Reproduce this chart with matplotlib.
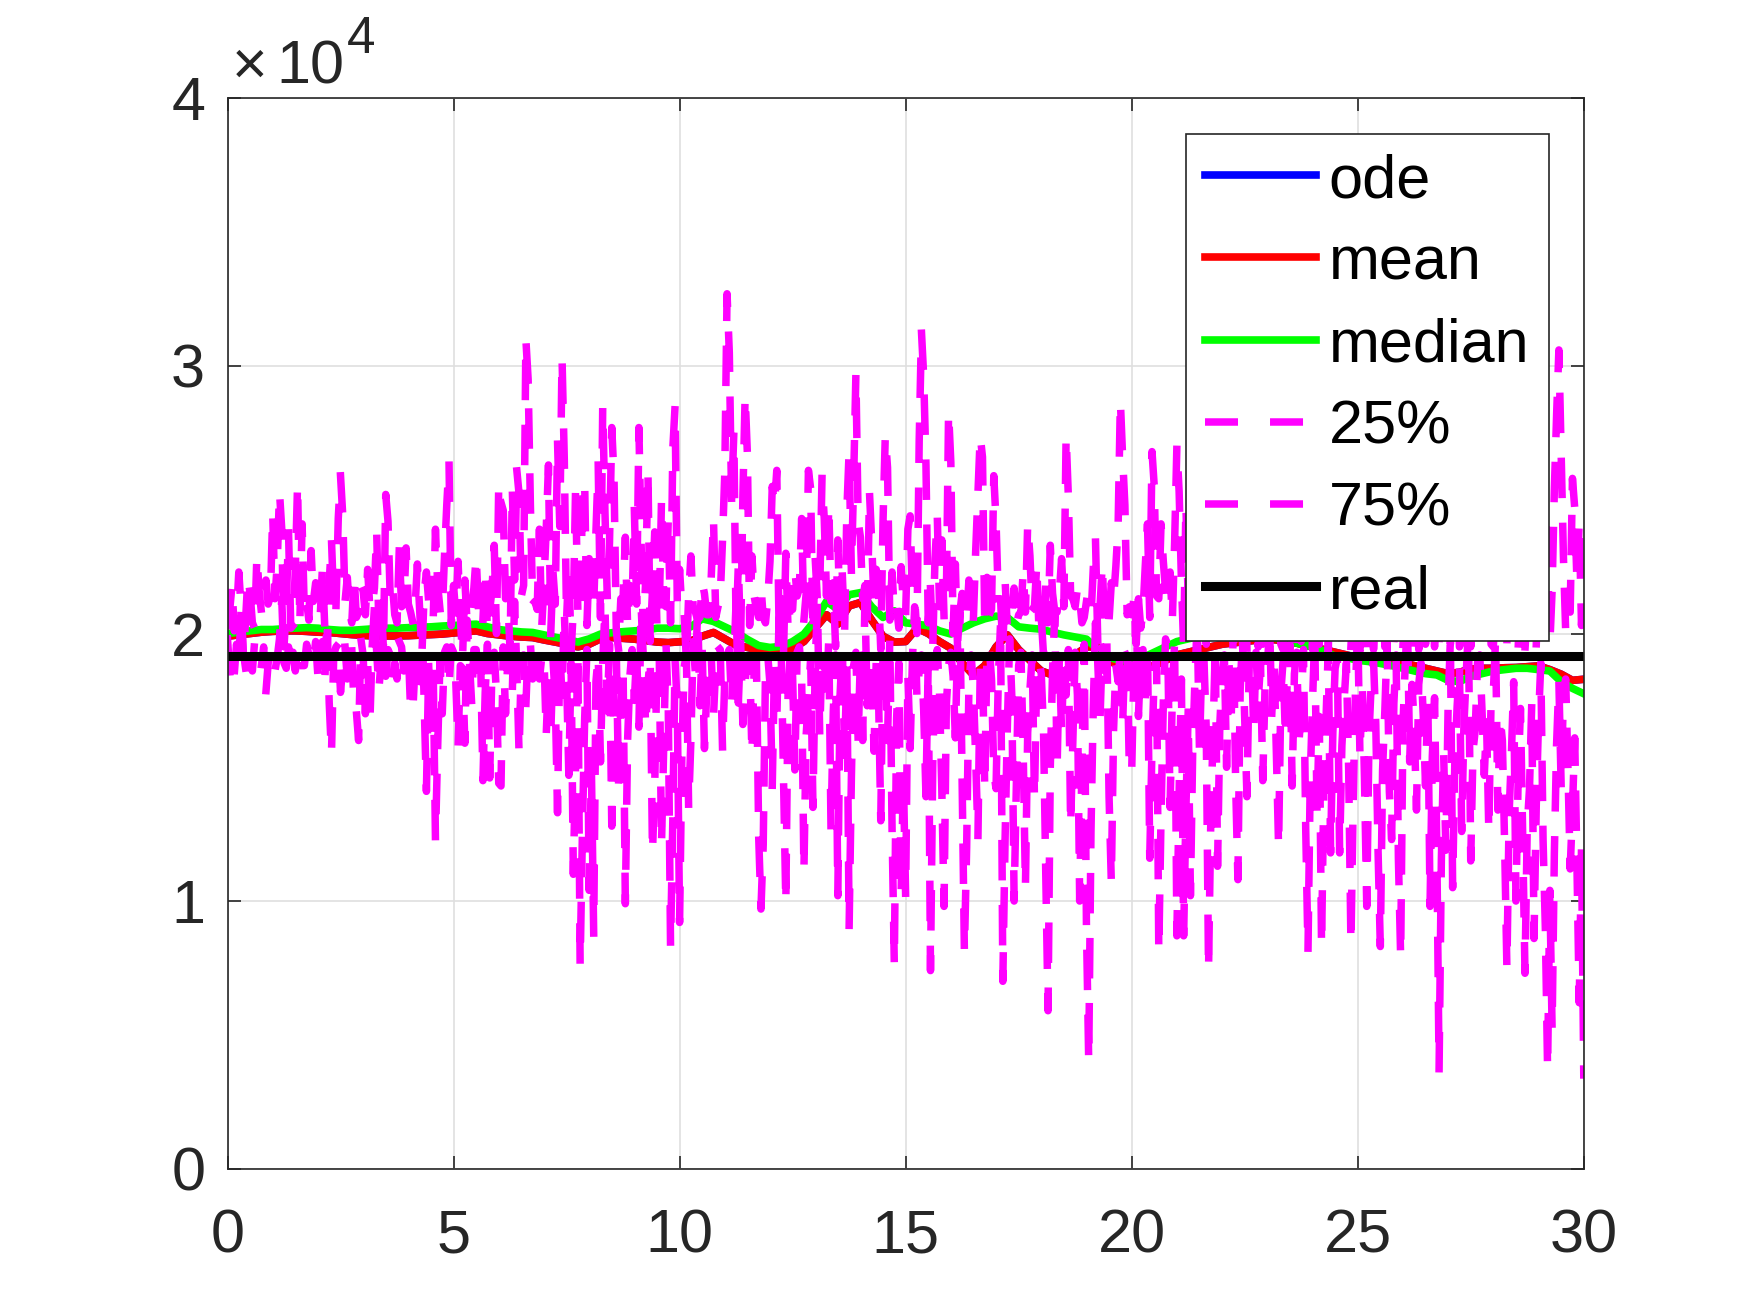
import numpy as np
import matplotlib
matplotlib.use('Agg')
import matplotlib.pyplot as plt

plt.rcParams['font.family'] = ['Liberation Sans', 'DejaVu Sans']

# ---------------- data ----------------
t_fine = np.linspace(0, 30, 601)   # 0.05 steps
q25_vals = [
    19800, 18500, 19000, 18500, 19600, 18800, 20900, 19300, 18700, 19400, 19100, 18600, 19700, 19200, 18900, 18800, 19500, 17800, 18900, 19300,
    19300, 18600, 19100, 19800, 21300, 18900, 18700, 19500, 18700, 19300, 18600, 19500, 19200, 18800, 18800, 19600, 19200, 18800, 19000, 19700,
    18400, 19300, 19700, 18100, 20500, 17400, 15500, 19200, 19500, 19600, 17800, 18800, 19500, 18300, 19400, 19400, 17200, 17100, 16000, 19800,
    19200, 17000, 18900, 16700, 19500, 21000, 19300, 17900, 19100, 19600, 18400, 19400, 19200, 18300, 18900, 18300, 19700, 19500, 18600, 18800,
    19400, 17100, 17100, 18900, 19400, 18200, 20800, 17500, 14100, 18800, 16400, 18700, 12300, 15800, 19000, 17000, 19300, 19500, 18000, 19500,
    19300, 18200, 15800, 18800, 18700, 15900, 20500, 19000, 17400, 19400, 19400, 18300, 19000, 14500, 17800, 19600, 14600, 18800, 19300, 17700,
    14400, 14300, 19500, 17000, 19000, 19300, 17800, 21200, 18600, 15500, 19000, 19200, 17300, 19500, 19600, 18300, 18700, 19300, 18300, 19100,
    19200, 16200, 18500, 16200, 19000, 17600, 13300, 19400, 17600, 20800, 18400, 14700, 18900, 11000, 15200, 19300, 7600, 12500, 16800, 19400,
    10400, 14900, 8800, 18200, 19200, 15200, 18900, 21000, 17100, 19600, 12800, 18600, 19300, 14400, 17300, 18800, 9900, 16000, 18400, 19400,
    17500, 19300, 16500, 21000, 19000, 16500, 18100, 19100, 11800, 14300, 18900, 19300, 12100, 15900, 19600, 17200, 8300, 13000, 19000, 17200,
    9200, 15400, 18700, 19300, 13500, 16000, 19700, 18500, 20900, 17300, 19400, 15700, 17800, 19200, 19200, 16900, 18800, 19500, 19400, 15700,
    18300, 19200, 19400, 17400, 18900, 21200, 17400, 19700, 16600, 18200, 19100, 19100, 15500, 18700, 19000, 12400, 9700, 12100, 18600, 19200,
    18100, 14300, 18900, 16700, 20600, 19100, 14500, 9900, 17800, 19300, 18400, 14900, 19300, 19500, 18400, 11100, 16200, 17600, 19100, 13500,
    18900, 21100, 16200, 19300, 19400, 17500, 19800, 12600, 17100, 19200, 10200, 17700, 19500, 15400, 18800, 9000, 14600, 18800, 19300, 16000,
    19200, 16000, 21300, 17300, 18500, 19100, 15600, 19000, 17800, 13000, 19300, 18700, 16000, 19800, 12700, 7600, 16800, 18900, 10200, 14700,
    10200, 18400, 15700, 19000, 21000, 17600, 18600, 19200, 17100, 13900, 19000, 7400, 15100, 18800, 19400, 17700, 14200, 9800, 17300, 18800,
    19300, 18400, 16100, 19700, 20800, 14600, 8100, 12000, 18100, 19200, 17900, 15300, 12400, 18700, 19000, 14200, 19400, 19500, 18300, 14800,
    14200, 18300, 20400, 7000, 12300, 16500, 19800, 17600, 10000, 14500, 18800, 19300, 15700, 10500, 16300, 17900, 19200, 13800, 18500, 19000,
    18500, 16400, 11000, 5900, 15000, 18600, 20800, 14900, 19100, 16300, 19100, 17700, 19400, 12800, 16100, 19300, 17700, 10000, 15200, 19600,
    9000, 4000, 12600, 17200, 20400, 18900, 16800, 19500, 18600, 19800, 13900, 10700, 16400, 18800, 18200, 19400, 16600, 19300, 19100, 14800,
    14800, 18700, 20900, 16900, 19200, 19400, 17400, 19600, 11600, 15800, 18500, 19100, 8100, 13200, 17400, 19800, 19300, 13500, 17800, 19700,
    8700, 14100, 18300, 8700, 13400, 17100, 10200, 15600, 18300, 20500, 15600, 18900, 19000, 16400, 7400, 13000, 16200, 19500, 11300, 16600,
    18400, 19200, 15000, 19100, 16700, 20300, 14400, 10800, 17900, 19800, 16900, 13900, 18800, 19300, 16300, 19300, 17500, 18900, 14500, 18000,
    18600, 20400, 17000, 19000, 15600, 12000, 17800, 19000, 16100, 18700, 19600, 14300, 18500, 19300, 15900, 17200, 19400, 12700, 8100, 14600,
    17400, 20000, 13200, 16900, 8300, 14200, 16800, 19500, 11800, 16300, 18700, 19100, 11800, 15800, 17500, 18900, 14900, 8400, 13700, 17900,
    20300, 15400, 18200, 14600, 9800, 16200, 18200, 19000, 16600, 11900, 8300, 14900, 17100, 19700, 14100, 12300, 17400, 19200, 11600, 7900,
    16500, 18800, 20500, 15200, 18100, 16600, 13400, 18100, 18900, 16900, 14300, 17800, 9800, 15400, 17600, 12000, 3700, 11500, 15600, 11900,
    17300, 19800, 10500, 15400, 17300, 18800, 12600, 16600, 18500, 20200, 11500, 15600, 16400, 18900, 19200, 17100, 14700, 16700, 12600, 17500,
    17800, 19800, 13400, 16900, 16000, 12100, 7500, 13300, 15500, 18200, 10000, 14700, 17200, 12400, 7300, 12800, 14200, 17400, 8600, 13600,
    16800, 18900, 12300, 9000, 3700, 10400, 5200, 11800, 15900, 18200, 14300, 17700, 18300, 15000, 11200, 13400, 16100, 11300, 6200, 12000,
    3500,
]
q75_vals = [
    20300, 20900, 21800, 20100, 20700, 22300, 21000, 19100, 20500, 22100, 21500, 20400, 20200, 22900, 21600, 20800, 20800, 22000, 21100, 21400,
    24500, 21300, 22600, 25300, 23900, 19500, 21000, 23800, 20200, 20300, 22400, 25600, 20400, 24100, 20800, 21200, 20500, 23100, 21200, 21900,
    21200, 20600, 22500, 20300, 19000, 21900, 23500, 21100, 21000, 24300, 25900, 24400, 21200, 22100, 20800, 20400, 22200, 20600, 20800, 21800,
    21600, 20700, 22400, 20900, 21000, 21700, 23800, 20100, 21200, 19400, 25200, 24200, 21300, 21800, 20700, 20400, 23200, 21000, 21100, 23200,
    21100, 20800, 20400, 21000, 22600, 20900, 19200, 21500, 22300, 21200, 21100, 20500, 23900, 21800, 20900, 20700, 22900, 24800, 26400, 20300,
    21800, 20700, 22700, 20600, 19100, 22000, 20400, 20800, 20900, 21700, 22900, 21000, 21300, 20500, 22400, 20100, 20900, 21600, 23300, 20000,
    25600, 24900, 24600, 21300, 21400, 19300, 25400, 22000, 26100, 25200, 21400, 21800, 31000, 29500, 24800, 21100, 21200, 20900, 23900, 20200,
    21900, 23900, 26300, 20000, 22300, 21100, 27200, 24000, 30300, 26500, 20500, 22600, 19300, 20900, 25500, 20800, 20600, 24900, 25700, 20300,
    22800, 21000, 21000, 23800, 26300, 20600, 28500, 24500, 21400, 23400, 27700, 25800, 20100, 19400, 21300, 21300, 23600, 20300, 21800, 21100,
    24600, 21100, 27700, 23300, 20000, 22000, 26100, 19700, 21600, 23800, 20200, 20800, 25000, 21200, 21000, 24300, 20400, 26900, 28500, 21000,
    22400, 20900, 20800, 19000, 21400, 22900, 21000, 20800, 20500, 20600, 21900, 21500, 20700, 20700, 22100, 24300, 20600, 21000, 21400, 23500,
    26000, 32700, 30500, 25000, 27500, 20100, 22600, 19600, 25100, 28900, 26700, 20300, 22900, 21400, 20900, 20600, 21800, 20600, 20400, 21300,
    22700, 25500, 24800, 26100, 20200, 21300, 19300, 23000, 20100, 21100, 20900, 22400, 21400, 21700, 24300, 20500, 21500, 26100, 25400, 20000,
    22800, 21200, 21600, 25800, 24300, 21400, 24800, 21200, 21900, 19500, 23500, 20600, 22200, 20000, 24600, 26800, 22300, 25700, 29700, 24200,
    23600, 21300, 21800, 20300, 25300, 23400, 21200, 22400, 21600, 19400, 24200, 27400, 26200, 20500, 22300, 20800, 21000, 20200, 22500, 21100,
    20700, 23900, 24400, 21300, 21300, 20000, 27200, 31300, 29600, 26300, 20400, 21700, 19500, 22800, 24400, 21000, 23500, 20600, 21200, 28300,
    26400, 20000, 22600, 19400, 20800, 21500, 20800, 20500, 22000, 21100, 20600, 23100, 25200, 27400, 26600, 20400, 22100, 20700, 20900, 25900,
    24200, 21300, 21300, 19400, 22000, 20200, 20500, 20600, 21700, 20300, 20700, 20800, 22300, 20800, 24100, 22900, 20900, 21000, 22600, 20100,
    20600, 19200, 21900, 20400, 23300, 21500, 20800, 20800, 21500, 22800, 21000, 27400, 25100, 21400, 21300, 21000, 21700, 21300, 20400, 20600,
    21200, 21100, 20600, 22400, 23500, 19700, 21000, 22600, 20300, 20700, 20500, 21900, 21300, 22500, 24000, 28700, 26600, 24800, 20700, 21000,
    20700, 21300, 19600, 21300, 20200, 20800, 22500, 24100, 20600, 26800, 25500, 21400, 21300, 24100, 22700, 21600, 21200, 22300, 20500, 23400,
    27000, 25300, 22000, 19500, 24800, 21200, 19900, 26500, 22400, 19400, 21100, 25300, 21900, 19600, 23700, 20600, 19500, 24900, 27600, 21500,
    23100, 19600, 20900, 25800, 22200, 19500, 19700, 24400, 28200, 21700, 23600, 19400, 20700, 22800, 26100, 21400, 19500, 24700, 19600, 22500,
    25600, 19500, 21200, 23400, 27900, 22000, 19600, 19400, 24200, 21800, 26400, 22300, 19500, 20800, 23900, 19700, 21100, 25100, 29200, 22100,
    19400, 21000, 24500, 19600, 23200, 19900, 26700, 19500, 22700, 21100, 19400, 25400, 22300, 19600, 21100, 24000, 27300, 19500, 21300, 23300,
    19500, 19300, 22600, 25900, 19600, 21400, 23800, 19400, 21000, 24600, 28400, 22000, 19500, 20900, 25000, 22500, 19600, 21100, 24300, 26900,
    19500, 21300, 23100, 19600, 19500, 25600, 22200, 19400, 21300, 24500, 19600, 20900, 28200, 23000, 19500, 22900, 19700, 21100, 25800, 22400,
    24200, 19600, 21800, 26300, 22500, 19500, 19700, 23600, 27100, 21900, 19500, 20900, 24800, 22100, 19400, 21300, 25300, 28800, 22700, 19600,
    19500, 21100, 25000, 23400, 22500, 19700, 19600, 24300, 21900, 26900, 24100, 19500, 21500, 23100, 19400, 20800, 20900, 25600, 23700, 19600,
    22200, 20100, 21300, 24500, 22800, 19600, 21600, 25400, 28200, 30600, 26800, 22900, 20100, 21000, 20800, 25800, 24700, 21900, 24200, 20300,
    21800,
]

t_coarse = np.linspace(0, 30, 121)   # 0.25 steps
median_vals = [
    20000, 20050, 20100, 20150, 20150, 20180, 20200, 20220, 20200, 20150,
    20120, 20120, 20150, 20180, 20200, 20200, 20220, 20240, 20250, 20280,
    20300, 20330, 20350, 20250, 20150, 20100, 20060, 20040, 19950, 19860,
    19780, 19680, 19800, 19980, 20030, 20070, 20100, 20130, 20200, 20200,
    20180, 20250, 20550, 20450, 20250, 20050, 19780, 19550, 19480, 19520,
    19700, 19980, 20500, 21200, 20900, 21450, 21530, 21000, 20600, 20850,
    20400, 20350, 20290, 20100, 19980, 20200, 20400, 20550, 20650, 20600,
    20250, 20200, 20160, 20050, 19950, 19870, 19790, 19410, 19100, 19000,
    18920, 19100, 19300, 19500, 19700, 19800, 19900, 20000, 20100, 20050,
    20000, 19950, 19900, 19800, 19700, 19600, 19500, 19350, 19150, 19100,
    19000, 18950, 18880, 18800, 18700, 18600, 18500, 18450, 18250, 18200,
    18400, 18500, 18600, 18650, 18700, 18700, 18650, 18600, 18200, 17950,
    17750,
]
mean_vals = [
    19900, 19950, 20000, 20050, 20080, 20100, 20100, 20080, 20050, 20040,
    20000, 19960, 19930, 19910, 19910, 19910, 19920, 19940, 19960, 19980,
    20020, 20060, 20100, 20000, 19950, 19900, 19870, 19850, 19760, 19680,
    19600, 19500, 19600, 19800, 19850, 19820, 19790, 19740, 19680, 19660,
    19690, 19720, 19900, 20040, 19800, 19560, 19480, 19380, 19330, 19300,
    19450, 19700, 20200, 20700, 20350, 21030, 21160, 20500, 19900, 19680,
    19700, 20200, 20000, 19700, 19450, 18900, 18450, 18800, 19500, 19950,
    19400, 19000, 18600, 18450, 18400, 19200, 19500, 19500, 19000, 18750,
    18600, 18700, 18800, 19000, 19200, 19300, 19400, 19500, 19600, 19650,
    19700, 19750, 19800, 19750, 19700, 19600, 19500, 19400, 19300, 19200,
    19100, 19050, 19000, 18950, 18900, 18800, 18700, 18600, 18500, 18550,
    18670, 18700, 18700, 18720, 18730, 18760, 18790, 18650, 18480, 18250,
    18290,
]
ode_vals = list(mean_vals)
real_t = [0, 30]
real_vals = [19150, 19150]

series_labels = ['ode', 'mean', 'median', '25%', '75%', 'real']
x_ticks = [0, 5, 10, 15, 20, 25, 30]
y_ticks = [0, 10000, 20000, 30000, 40000]
y_tick_labels = ['0', '1', '2', '3', '4']

# ---------------- figure ----------------
dark = '#262626'
fig = plt.figure(figsize=(17.5, 13.13), dpi=100)
ax = fig.add_axes([0.13, 0.11, 0.775, 0.815])

ax.plot(t_coarse, ode_vals, color=(0, 0, 1), lw=5.5, label=series_labels[0])
ax.plot(t_coarse, mean_vals, color=(1, 0, 0), lw=5.5, label=series_labels[1])
ax.plot(t_coarse, median_vals, color=(0, 1, 0), lw=5.5, label=series_labels[2])
dash = (0, (4.4, 4.27))
ax.plot(t_fine, q25_vals, color=(1, 0, 1), lw=5.4, linestyle=dash,
        dash_capstyle='projecting', label=series_labels[3])
ax.plot(t_fine, q75_vals, color=(1, 0, 1), lw=5.4, linestyle=dash,
        dash_capstyle='projecting', label=series_labels[4])
ax.plot(real_t, real_vals, color='black', lw=6.5, label=series_labels[5])

ax.set_xlim(0, 30)
ax.set_ylim(0, 40000)
ax.set_xticks(x_ticks)
ax.set_xticklabels([str(v) for v in x_ticks])
ax.set_yticks(y_ticks)
ax.set_yticklabels(y_tick_labels)
ax.tick_params(direction='in', length=9.5, width=1.2, colors=dark,
               labelsize=44, top=True, right=True)
ax.tick_params(axis='x', pad=29)
ax.tick_params(axis='y', pad=16)
ax.grid(True, color='#dfdfdf', lw=1.2)
ax.set_axisbelow(True)
for sp in ax.spines.values():
    sp.set_color(dark)
    sp.set_linewidth(1.2)

leg = ax.legend(loc='upper right', bbox_to_anchor=(0.9742, 0.9672),
                borderaxespad=0, fontsize=44, frameon=True, fancybox=False,
                edgecolor=dark, framealpha=1, handlelength=1.82,
                handleheight=0.8, handletextpad=0.2, borderpad=0.32,
                labelspacing=0.40)
leg.get_frame().set_linewidth(1.2)
for ln in leg.get_lines()[3:5]:
    ln.set_dash_capstyle('butt')

# exponent label
fig.text(232 / 1750, 0.9366, '\u00d7', fontsize=44, color=dark, va='baseline', ha='left')
fig.text(276 / 1750, 0.9366, '10', fontsize=44, color=dark, va='baseline', ha='left')
fig.text(347 / 1750, 0.9594, '4', fontsize=37, color=dark, va='baseline', ha='left')

fig.savefig('out.png', dpi=100)
